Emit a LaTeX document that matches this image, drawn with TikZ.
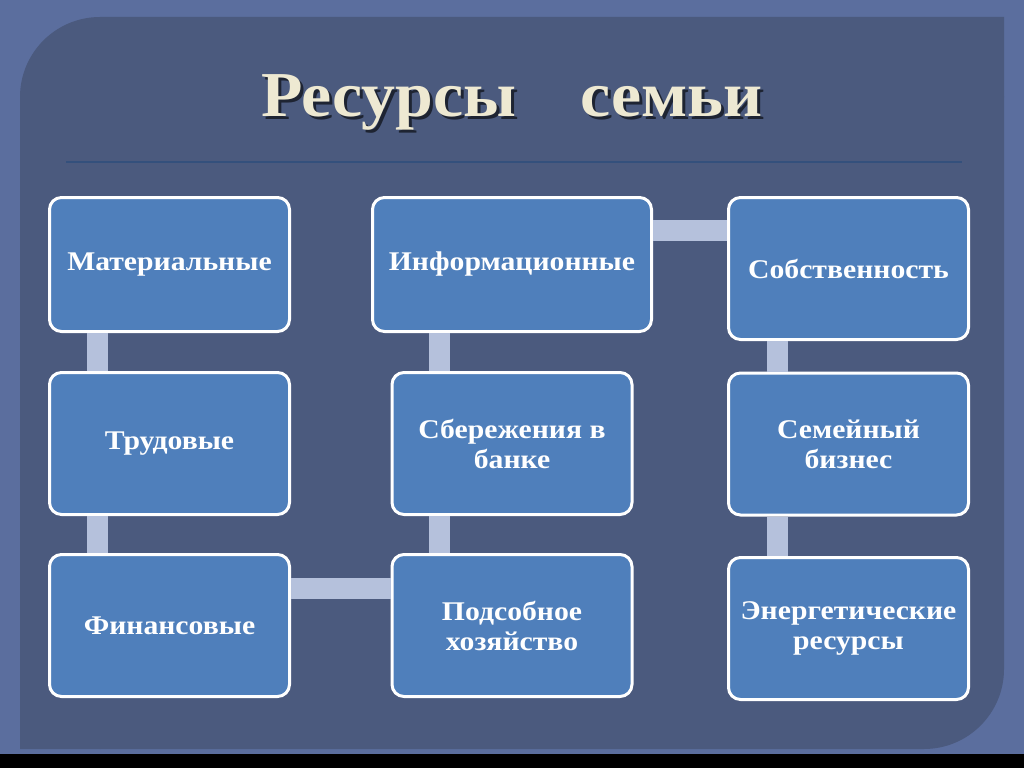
\documentclass[tikz,border=0pt]{standalone}
\usepackage{fontspec}
\setmainfont{Liberation Serif}
\newfontfamily\boxfont{Liberation Serif}[FakeStretch=1.1]
\newfontfamily\headfont{Liberation Serif}[FakeStretch=1.06]
\definecolor{slidebg}{HTML}{5B6E9E}
\definecolor{panelbg}{HTML}{4B5A7E}
\definecolor{boxfill}{HTML}{4F7FBB}
\definecolor{linkcol}{HTML}{B5C1DC}
\definecolor{titlecol}{HTML}{EEE9D2}
\definecolor{rulecol}{HTML}{34507C}
\begin{document}
\begin{tikzpicture}[x=1pt,y=-1pt,
    res/.style={draw=white,line width=3pt,fill=boxfill,rounded corners=12pt,
      text=white,font=\boxfont\bfseries\fontsize{27}{30}\selectfont,align=center,
      inner sep=0pt,minimum width=240},
    link/.style={linkcol,line width=21pt},
    heading/.style={font=\headfont\bfseries\fontsize{64}{68}\selectfont,anchor=base}]
  \useasboundingbox (0,0) rectangle (1024,768);
  \fill[slidebg] (0,0) rectangle (1024,768);
  \fill[black] (0,754) rectangle (1024,768);
  \fill[panelbg,rounded corners=80pt] (20,17) rectangle (1004,749);
  \fill[panelbg] (924,17) rectangle (1004,97) (20,669) rectangle (100,749);
  \draw[rulecol,line width=2pt] (66,162) -- (962,162);
  \node[heading,text=black,opacity=0.6] (shadow) at (515,119) {Ресурсы\quad семьи};
  \node[heading,text=titlecol] (title) at (512,116) {Ресурсы\quad семьи};
  \draw
    (169.5,264.5) node[res,minimum height=134] (mat) {Материальные}
    (169.5,443.5) node[res,minimum height=142] (trud) {Трудовые}
    (169.5,625.5) node[res,minimum height=142] (fin) {Финансовые}
    (512,264.5) node[res,minimum width=279,minimum height=134] (info) {Информационные}
    (512,443.5) node[res,minimum height=142] (sber) {Сбережения в\\банке}
    (512,625.5) node[res,minimum height=142] (pods) {Подсобное\\хозяйство}
    (848.5,268.5) node[res,minimum height=142] (sobs) {Собственность}
    (848.5,444) node[res,minimum height=142] (sem) {Семейный\\бизнес}
    (848.5,628.5) node[res,minimum height=142] (energ) {Энергетические\\ресурсы};
  \begin{scope}[link]
    \draw ([xshift=49pt]mat.south west) to ([xshift=49pt]trud.north west);
    \draw ([xshift=49pt]trud.south west) to ([xshift=49pt]fin.north west);
    \draw ([yshift=-35pt]fin.north east) to ([yshift=-35pt]pods.north west);
    \draw ([xshift=49pt]pods.north west) to ([xshift=49pt]sber.south west);
    \draw ([xshift=49pt]sber.north west) to ([xshift=68.5pt]info.south west);
    \draw ([yshift=-34pt]info.north east) to ([yshift=-34pt]sobs.north west);
    \draw ([xshift=50pt]sobs.south west) to ([xshift=50pt]sem.north west);
    \draw ([xshift=50pt]sem.south west) to ([xshift=50pt]energ.north west);
  \end{scope}
\end{tikzpicture}
\end{document}
